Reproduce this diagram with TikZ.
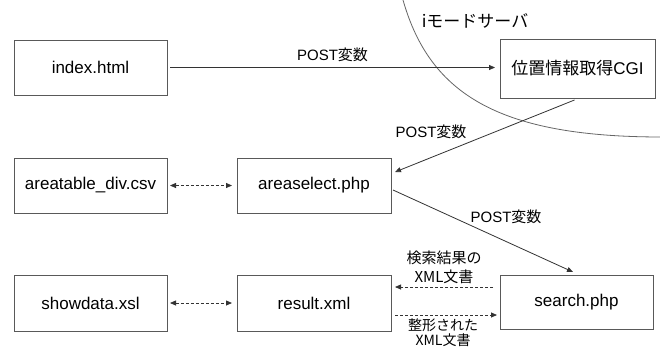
\documentclass[tikz,border=0pt]{standalone}
\usepackage{fontspec}
\setmainfont{Liberation Sans}
\newfontfamily\jpfont{Noto Sans CJK JP}
\usetikzlibrary{arrows.meta,calc}
\begin{document}
\begin{tikzpicture}[x=1pt,y=-1pt,
  box/.style={draw=black!65,line width=0.8pt,rectangle,inner sep=0pt,outer sep=0pt,
    font=\fontsize{17}{20}\selectfont},
  arr/.style={draw=black!80,line width=0.8pt,-{Triangle[length=6pt,width=5pt]}},
  darr/.style={draw=black!80,line width=0.8pt,dash pattern=on 3pt off 2pt,
    {Triangle[length=6pt,width=5pt]}-{Triangle[length=6pt,width=5pt]}},
  dash1/.style={draw=black!80,line width=0.8pt,dash pattern=on 3pt off 2pt,
    -{Triangle[length=6pt,width=5pt]}},
  lbl/.style={font=\fontsize{15}{16}\selectfont,inner sep=0pt,align=center}]
\useasboundingbox (0,0) rectangle (660,348);
\fill[white] (0,0) rectangle (660,348);

% server boundary
\draw[black!60,line width=0.8pt] (403,0) .. controls (430,95) and (500,137) .. (662,137);
\node[font=\fontsize{17}{20}\selectfont\jpfont,inner sep=0pt] (srv) at (475,21) {iモードサーバ};

% boxes
\node[box,minimum width=153,minimum height=55] (index) at (90.5,67.5) {index.html};
\node[box,minimum width=155,minimum height=59] (cgi) at (577.5,68.5) {{\jpfont 位置情報取得}CGI};
\node[box,minimum width=153,minimum height=55] (atab) at (90.5,185.5) {areatable\_div.csv};
\node[box,minimum width=154,minimum height=55] (asel) at (314,185.5) {areaselect.php};
\node[box,minimum width=153,minimum height=56] (show) at (90.5,303) {showdata.xsl};
\node[box,minimum width=154,minimum height=56] (res) at (314,303) {result.xml};
\node[box,minimum width=153,minimum height=54] (srch) at (576.5,302) {search.php};

% connectors
\draw[arr] ($(index.east)+(3,0)$) -- ($(index.east -| cgi.west)+(-5,0)$)
  node[lbl,midway,above=5pt] {POST{\jpfont 変数}};
\draw[arr] ($(cgi.south)+(-3,2)$) -- ($(asel.east)+(4,-13.5)$);
\node[lbl] at (431,132) {POST{\jpfont 変数}};
\draw[arr] ($(asel.east)+(2,4.5)$) -- ($(srch.north)+(-3.5,-3)$);
\node[lbl] at (506,217) {POST{\jpfont 変数}};

\draw[darr] ($(atab.east)+(3,0)$) -- ($(asel.west)+(-5,0)$);
\draw[darr] ($(show.east)+(3,0)$) -- ($(res.west)+(-5,0)$);

\draw[dash1] ($(srch.west)+(-7,-15)$) -- ($(res.east)+(4,-16)$);
\draw[dash1] ($(res.east)+(4,12)$) -- ($(srch.west)+(-3,13)$);
\node[lbl,font=\fontsize{15}{19}\selectfont\jpfont] at (444,267) {検索結果の\\XML文書};
\node[lbl,font=\fontsize{14}{15}\selectfont\jpfont] at (443,333) {整形された\\XML文書};
\end{tikzpicture}
\end{document}
